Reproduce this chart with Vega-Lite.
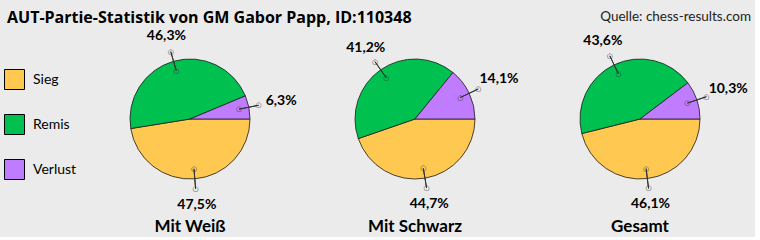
{
  "$schema": "https://vega.github.io/schema/vega-lite/v6.json",
  "background": "#EBEBEB",
  "padding": {"left": 4, "top": 9, "right": 4, "bottom": 2},
  "bounds": "flush",
  "title": {"text": "AUT-Partie-Statistik von GM Gabor Papp, ID:110348", "anchor": "start", "frame": "bounds", "fontSize": 16, "font": "Open Sans", "fontWeight": "bold", "color": "#000000", "offset": -16, "dx": 3},
  "data": {"values": [
    {"Partien": "Mit Weiß", "Ergebnis": "Sieg", "Nr": 1, "Anteil": 0.475},
    {"Partien": "Mit Weiß", "Ergebnis": "Remis", "Nr": 2, "Anteil": 0.463},
    {"Partien": "Mit Weiß", "Ergebnis": "Verlust", "Nr": 3, "Anteil": 0.063},
    {"Partien": "Mit Schwarz", "Ergebnis": "Sieg", "Nr": 1, "Anteil": 0.447},
    {"Partien": "Mit Schwarz", "Ergebnis": "Remis", "Nr": 2, "Anteil": 0.412},
    {"Partien": "Mit Schwarz", "Ergebnis": "Verlust", "Nr": 3, "Anteil": 0.141},
    {"Partien": "Gesamt", "Ergebnis": "Sieg", "Nr": 1, "Anteil": 0.461},
    {"Partien": "Gesamt", "Ergebnis": "Remis", "Nr": 2, "Anteil": 0.436},
    {"Partien": "Gesamt", "Ergebnis": "Verlust", "Nr": 3, "Anteil": 0.103}
  ]},
  "facet": {"column": {"field": "Partien", "type": "nominal", "sort": ["Mit Weiß", "Mit Schwarz", "Gesamt"],
    "header": {"title": "Quelle: chess-results.com", "titleOrient": "top", "titleAnchor": "end", "titleFontSize": 13.5, "titleFont": "Lato", "titleFontWeight": "normal", "titleColor": "#222222", "titlePadding": 36,
      "labelOrient": "bottom", "labelFontSize": 17, "labelFontWeight": "bold", "labelFont": "Lato", "labelColor": "#000000", "labelPadding": 50}}},
  "spacing": 3,
  "resolve": {"scale": {"theta": "independent"}},
  "spec": {
    "width": 222,
    "height": 100,
    "encoding": {
      "theta": {"field": "Anteil", "type": "quantitative", "stack": true, "scale": {"range": [1.5708, 7.854]}},
      "order": {"field": "Nr", "type": "ordinal"}
    },
    "layer": [
      {"mark": {"type": "arc", "radius": 60, "stroke": "#1a1a1a", "strokeWidth": 0.8},
       "encoding": {"color": {"field": "Ergebnis", "type": "nominal", "title": null,
         "scale": {"domain": ["Sieg", "Remis", "Verlust"], "range": ["#FFC850", "#00C050", "#C07CFF"]}}}},
      {"mark": {"type": "arc", "radius": 70, "radius2": 50, "padAngle": 3, "filled": false, "stroke": "#333333", "strokeWidth": 1}, "encoding": {}},
      {"mark": {"type": "text", "radius": 50, "text": "○", "font": "DejaVu Sans", "fontSize": 7, "color": "#333333", "baseline": "middle"}, "encoding": {}},
      {"mark": {"type": "text", "radius": 70, "text": "○", "font": "DejaVu Sans", "fontSize": 7, "color": "#333333", "baseline": "middle"}, "encoding": {}},
      {"mark": {"type": "text", "radius": 86, "font": "Lato", "fontSize": 14, "fontWeight": "bold", "color": "#000000", "baseline": "middle"},
       "encoding": {"text": {"condition": {"test": "datum.Ergebnis !== 'Verlust'", "field": "Anteil", "format": ".1%"}, "value": ""}}},
      {"mark": {"type": "text", "radius": 93, "font": "Lato", "fontSize": 14, "fontWeight": "bold", "color": "#000000", "baseline": "middle"},
       "encoding": {"text": {"condition": {"test": "datum.Ergebnis === 'Verlust'", "field": "Anteil", "format": ".1%"}, "value": ""}}}
    ]
  },
  "config": {
    "locale": {"number": {"decimal": ",", "thousands": ".", "grouping": [3], "currency": ["", " €"]}},
    "view": {"stroke": null},
    "legend": {"orient": "left", "symbolType": "square", "symbolSize": 400, "symbolStrokeColor": "#000000", "symbolStrokeWidth": 1, "symbolOpacity": 1,
      "labelFontSize": 14, "labelFont": "Lato", "labelColor": "#000000", "rowPadding": 20, "labelOffset": 8, "offset": 2, "padding": 0}
  }
}
